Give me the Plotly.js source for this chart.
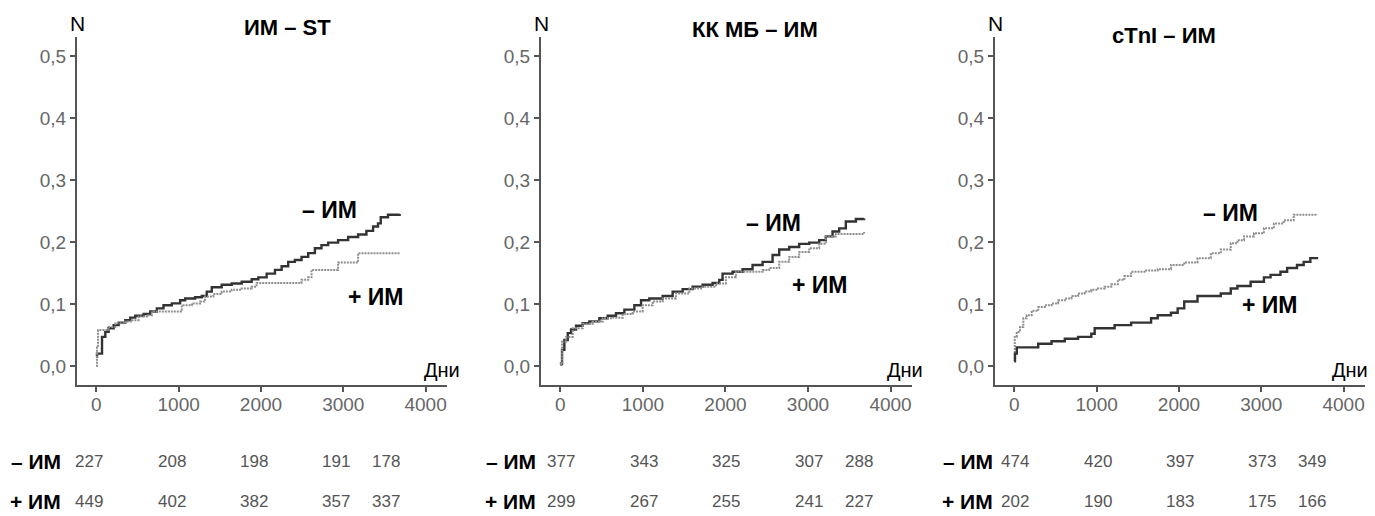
<!DOCTYPE html>
<html>
<head>
<meta charset="utf-8">
<script src="https://cdn.plot.ly/plotly-3.0.1.min.js"></script>
<style>html,body{margin:0;padding:0;background:#fff;}#chart{width:1375px;height:516px;}</style>
</head>
<body>
<div id="chart"></div>
<script>
// ---------- DATA ----------
const panelTitles = ["ИМ – ST", "КК МБ – ИМ", "cTnI – ИМ"];
const groupLabels = ["– ИМ", "+ ИМ"];
const yTickVals = [0, 0.1, 0.2, 0.3, 0.4, 0.5];
const yTickLabels = ["0,0", "0,1", "0,2", "0,3", "0,4", "0,5"];
const xTickVals = [0, 1000, 2000, 3000, 4000];
const xTickLabels = ["0", "1000", "2000", "3000", "4000"];

// Panel 1: ИМ – ST
const p1MinusT = [0, 8, 69, 109, 149, 210, 271, 352, 412, 473, 574, 655, 735, 816, 917, 1018, 1079, 1200, 1281, 1341, 1402, 1523, 1644, 1766, 1887, 1968, 2069, 2170, 2251, 2331, 2412, 2493, 2574, 2655, 2735, 2816, 2937, 3059, 3180, 3281, 3362, 3422, 3455, 3543, 3685];
const p1MinusV = [0.015, 0.020, 0.047, 0.055, 0.061, 0.066, 0.070, 0.074, 0.078, 0.081, 0.084, 0.088, 0.093, 0.098, 0.101, 0.106, 0.109, 0.111, 0.113, 0.120, 0.127, 0.131, 0.133, 0.136, 0.140, 0.143, 0.149, 0.155, 0.161, 0.168, 0.171, 0.176, 0.182, 0.190, 0.195, 0.199, 0.203, 0.208, 0.212, 0.218, 0.225, 0.230, 0.240, 0.244, 0.245];
const p1PlusT = [0, 8, 20, 149, 230, 352, 432, 513, 614, 675, 1038, 1160, 1261, 1321, 1422, 1523, 1644, 1766, 1887, 1947, 2493, 2574, 2614, 2937, 3180, 3685];
const p1PlusV = [0.0, 0.030, 0.058, 0.063, 0.069, 0.072, 0.074, 0.080, 0.082, 0.088, 0.098, 0.101, 0.104, 0.112, 0.116, 0.120, 0.123, 0.125, 0.128, 0.134, 0.139, 0.143, 0.155, 0.167, 0.182, 0.182];

// Panel 2: КК МБ – ИМ
const p2MinusT = [0, 8, 20, 48, 89, 129, 190, 270, 351, 472, 573, 674, 775, 896, 977, 1077, 1239, 1360, 1481, 1602, 1723, 1844, 1925, 1965, 2086, 2207, 2328, 2450, 2571, 2651, 2772, 2893, 3015, 3136, 3216, 3297, 3378, 3458, 3580, 3680];
const p2MinusV = [0.002, 0.004, 0.026, 0.042, 0.053, 0.059, 0.065, 0.069, 0.072, 0.077, 0.081, 0.085, 0.091, 0.098, 0.106, 0.109, 0.113, 0.120, 0.124, 0.128, 0.131, 0.134, 0.139, 0.149, 0.152, 0.156, 0.163, 0.168, 0.179, 0.188, 0.192, 0.197, 0.199, 0.203, 0.209, 0.217, 0.222, 0.233, 0.237, 0.238];
const p2PlusT = [0, 8, 20, 69, 149, 270, 391, 513, 634, 755, 876, 997, 1118, 1239, 1400, 1562, 1723, 1885, 2006, 2127, 2450, 2530, 2651, 2772, 2893, 3015, 3136, 3216, 3337, 3680];
const p2PlusV = [0.002, 0.004, 0.039, 0.047, 0.061, 0.068, 0.072, 0.077, 0.078, 0.084, 0.088, 0.098, 0.104, 0.109, 0.117, 0.125, 0.128, 0.133, 0.143, 0.152, 0.155, 0.158, 0.168, 0.176, 0.184, 0.190, 0.197, 0.209, 0.213, 0.216];

// Panel 3: cTnI – ИМ
const p3MinusT = [0, 5, 29, 69, 109, 150, 210, 291, 371, 452, 532, 613, 694, 774, 855, 935, 1016, 1097, 1177, 1258, 1338, 1419, 1580, 1742, 1903, 2064, 2225, 2387, 2508, 2629, 2710, 2790, 2911, 3032, 3153, 3273, 3394, 3676];
const p3MinusV = [0.007, 0.047, 0.055, 0.063, 0.077, 0.082, 0.089, 0.095, 0.098, 0.101, 0.106, 0.109, 0.113, 0.117, 0.120, 0.123, 0.125, 0.128, 0.132, 0.139, 0.145, 0.152, 0.154, 0.156, 0.163, 0.167, 0.174, 0.182, 0.188, 0.198, 0.203, 0.209, 0.214, 0.222, 0.230, 0.235, 0.244, 0.245];
const p3PlusT = [0, 8, 30, 290, 452, 613, 774, 935, 976, 1218, 1419, 1661, 1742, 1903, 1984, 2064, 2225, 2508, 2629, 2710, 2871, 3032, 3113, 3233, 3314, 3434, 3515, 3596, 3676];
const p3PlusV = [0.008, 0.020, 0.030, 0.036, 0.040, 0.044, 0.047, 0.052, 0.061, 0.066, 0.070, 0.077, 0.082, 0.086, 0.093, 0.104, 0.113, 0.117, 0.125, 0.129, 0.136, 0.143, 0.147, 0.152, 0.158, 0.163, 0.168, 0.174, 0.176];

// Numbers at risk
const riskTimes = [0, 1000, 2000, 3000, 3600];
const p1RiskMinus = [227, 208, 198, 191, 178];
const p1RiskPlus = [449, 402, 382, 357, 337];
const p2RiskMinus = [377, 343, 325, 307, 288];
const p2RiskPlus = [299, 267, 255, 241, 227];
const p3RiskMinus = [474, 420, 397, 373, 349];
const p3RiskPlus = [202, 190, 183, 175, 166];

// ---------- STYLE / LAYOUT ----------
const W = 1375, H = 516;
const px = p => p / W;
const py = p => 1 - p / H;
const FONT = "Liberation Sans, Arial, sans-serif";
const SOLID = {color: "#333333", width: 2.4, shape: "hv"};
const DOTTED = {color: "#8e8e8e", width: 2, shape: "hv", dash: "2px,1px"};

const panels = [
  {ax: "", left: 77, right: 447, minus: [p1MinusT, p1MinusV, SOLID], plus: [p1PlusT, p1PlusV, DOTTED],
   risk: [p1RiskMinus, p1RiskPlus], shift: -7, rowLabelRight: 63, title: [287, 28],
   minusLbl: [329, 210], plusLbl: [376, 297], N: 77, dni: 422},
  {ax: "2", left: 541, right: 912, minus: [p2MinusT, p2MinusV, SOLID], plus: [p2PlusT, p2PlusV, DOTTED],
   risk: [p2RiskMinus, p2RiskPlus], shift: 1, rowLabelRight: 538, title: [755, 30],
   minusLbl: [773, 223], plusLbl: [820, 285], N: 541, dni: 885},
  {ax: "3", left: 995, right: 1365, minus: [p3MinusT, p3MinusV, DOTTED], plus: [p3PlusT, p3PlusV, SOLID],
   risk: [p3RiskMinus, p3RiskPlus], shift: 1, rowLabelRight: 995, title: [1164, 35],
   minusLbl: [1230, 213], plusLbl: [1270, 305], N: 995, dni: 1330}
];

const traces = [];
const annotations = [];
const layout = {
  width: W, height: H,
  margin: {l: 0, r: 0, t: 0, b: 0},
  paper_bgcolor: "#fff", plot_bgcolor: "#fff",
  showlegend: false,
  font: {family: FONT, color: "#000"},
  annotations: annotations
};

const axisCommon = {
  showline: true, linecolor: "#555", linewidth: 2,
  ticks: "outside", ticklen: 5, tickwidth: 2, tickcolor: "#555",
  showgrid: false, zeroline: false, fixedrange: true,
  tickfont: {family: FONT, size: 19, color: "#666"}
};

panels.forEach((p, i) => {
  const xa = "x" + p.ax, ya = "y" + p.ax;
  layout["xaxis" + p.ax] = Object.assign({}, axisCommon, {
    domain: [px(p.left), px(p.right)], range: [-235, 4260], anchor: ya,
    tickmode: "array", tickvals: xTickVals, ticktext: xTickLabels, ticklabelstandoff: -4
  });
  layout["yaxis" + p.ax] = Object.assign({}, axisCommon, {
    domain: [1 - 385 / H, 1 - 37 / H], range: [-0.0306, 0.5306], anchor: xa,
    tickmode: "array", tickvals: yTickVals, ticktext: yTickLabels
  });
  traces.push({x: p.minus[0], y: p.minus[1], xaxis: xa, yaxis: ya, type: "scatter", mode: "lines", line: p.minus[2], hoverinfo: "skip"});
  traces.push({x: p.plus[0], y: p.plus[1], xaxis: xa, yaxis: ya, type: "scatter", mode: "lines", line: p.plus[2], hoverinfo: "skip"});

  annotations.push({text: "<b>" + panelTitles[i] + "</b>", xref: "paper", yref: "paper", x: px(p.title[0]), y: py(p.title[1]),
    xanchor: "center", yanchor: "middle", showarrow: false, font: {family: FONT, size: 22, color: "#000"}});
  annotations.push({text: "<b>" + groupLabels[0] + "</b>", xref: "paper", yref: "paper", x: px(p.minusLbl[0]), y: py(p.minusLbl[1]),
    xanchor: "center", yanchor: "middle", showarrow: false, font: {family: FONT, size: 23, color: "#000"}});
  annotations.push({text: "<b>" + groupLabels[1] + "</b>", xref: "paper", yref: "paper", x: px(p.plusLbl[0]), y: py(p.plusLbl[1]),
    xanchor: "center", yanchor: "middle", showarrow: false, font: {family: FONT, size: 23, color: "#000"}});
  annotations.push({text: "N", xref: "paper", yref: "paper", x: px(p.N), y: py(24),
    xanchor: "center", yanchor: "middle", showarrow: false, font: {family: FONT, size: 21, color: "#000"}});
  annotations.push({text: "Дни", xref: "paper", yref: "paper", x: px(p.dni), y: py(370),
    xanchor: "left", yanchor: "middle", showarrow: false, font: {family: FONT, size: 20, color: "#000"}});

  const rowsY = [461, 501];
  [0, 1].forEach(r => {
    annotations.push({text: "<b>" + groupLabels[r] + "</b>", xref: "paper", yref: "paper", x: px(p.rowLabelRight), y: py(rowsY[r]),
      xanchor: "right", yanchor: "middle", showarrow: false, font: {family: FONT, size: 21, color: "#000"}});
    riskTimes.forEach((t, k) => {
      annotations.push({text: String(p.risk[r][k]), xref: xa, yref: "paper", x: t, y: py(rowsY[r]), xshift: p.shift,
        xanchor: "center", yanchor: "middle", showarrow: false, font: {family: FONT, size: 17, color: "#555"}});
    });
  });
});

Plotly.newPlot("chart", traces, layout, {displayModeBar: false, staticPlot: true});
</script>
</body>
</html>
